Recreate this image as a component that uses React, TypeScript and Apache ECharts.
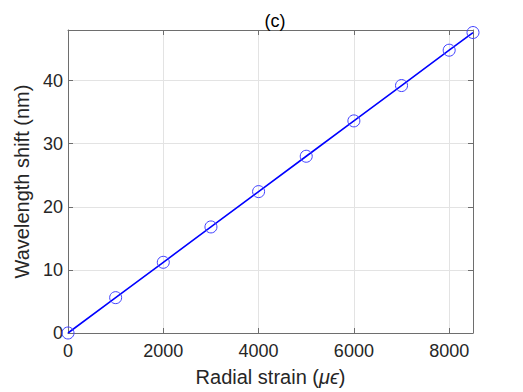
import React, { useEffect, useRef } from "react";
import * as echarts from "echarts";

const strain = [0, 1000, 2000, 3000, 4000, 5000, 6000, 7000, 8000, 8500];
const shift = [0, 5.6, 11.2, 16.8, 22.4, 28.0, 33.6, 39.2, 44.8, 47.6];
const xTicks = [0, 2000, 4000, 6000, 8000];
const yTicks = [0, 10, 20, 30, 40];

const FONT = "Liberation Sans";
const TXT = "#262626";
const AX = "#6e6e6e";
const GRID = "#e3e3e3";

export default function App() {
  const ref = useRef<HTMLDivElement>(null);
  useEffect(() => {
    const chart = echarts.init(ref.current!, undefined, { renderer: "svg" });
    const base = {
      min: 0,
      axisTick: { show: true, inside: true, length: 5, lineStyle: { color: AX } },
      axisLine: { show: true, onZero: false, lineStyle: { color: AX, width: 1 } },
    };
    chart.setOption({
      animation: false,
      backgroundColor: "#ffffff",
      title: {
        text: "(c)",
        left: 270,
        textAlign: "center",
        top: 7,
        textStyle: { fontFamily: FONT, fontSize: 18, fontWeight: "normal", color: "#000" },
      },
      grid: { left: 68, right: 50, top: 30, bottom: 58, containLabel: false },
      xAxis: [
        {
          ...base,
          type: "value",
          position: "bottom",
          max: 8500,
          interval: 2000,
          name: "Radial strain ({i|μϵ})",
          nameLocation: "middle",
          nameGap: 34,
          nameTextStyle: {
            fontFamily: FONT,
            fontSize: 20,
            color: TXT,
            rich: { i: { fontFamily: FONT, fontSize: 20, fontStyle: "italic", color: TXT } },
          },
          axisLabel: {
            fontFamily: FONT,
            fontSize: 18,
            color: TXT,
            margin: 9,
            showMaxLabel: false,
            formatter: (v: number) => (xTicks.includes(v) ? String(v) : ""),
          },
          splitLine: { show: true, lineStyle: { color: GRID, width: 1 } },
        },
        {
          ...base,
          type: "value",
          position: "top",
          max: 8500,
          interval: 2000,
          axisLabel: { show: false },
          splitLine: { show: false },
        },
      ],
      yAxis: [
        {
          ...base,
          type: "value",
          position: "left",
          max: 48,
          interval: 10,
          name: "Wavelength shift (nm)",
          nameLocation: "middle",
          nameGap: 35,
          nameTextStyle: { fontFamily: FONT, fontSize: 20, color: TXT },
          axisLabel: {
            fontFamily: FONT,
            fontSize: 18,
            color: TXT,
            margin: 5,
            showMaxLabel: false,
            formatter: (v: number) => (yTicks.includes(v) ? String(v) : ""),
          },
          splitLine: { show: true, lineStyle: { color: GRID, width: 1 } },
        },
        {
          ...base,
          type: "value",
          position: "right",
          max: 48,
          interval: 10,
          axisLabel: { show: false },
          splitLine: { show: false },
        },
      ],
      series: [
        {
          type: "line",
          data: strain.map((x, i) => [x, shift[i]]),
          lineStyle: { color: "#0000ff", width: 1.6 },
          itemStyle: { color: "rgba(0,0,0,0)", borderColor: "#4040ff", borderWidth: 1 },
          symbol: "circle",
          symbolSize: 12,
          showSymbol: true,
          clip: false,
          z: 3,
        },
      ],
    });
    return () => chart.dispose();
  }, []);
  return (
    <div
      ref={ref}
      style={{ position: "fixed", left: 0, top: 0, width: 523, height: 392 }}
    />
  );
}
